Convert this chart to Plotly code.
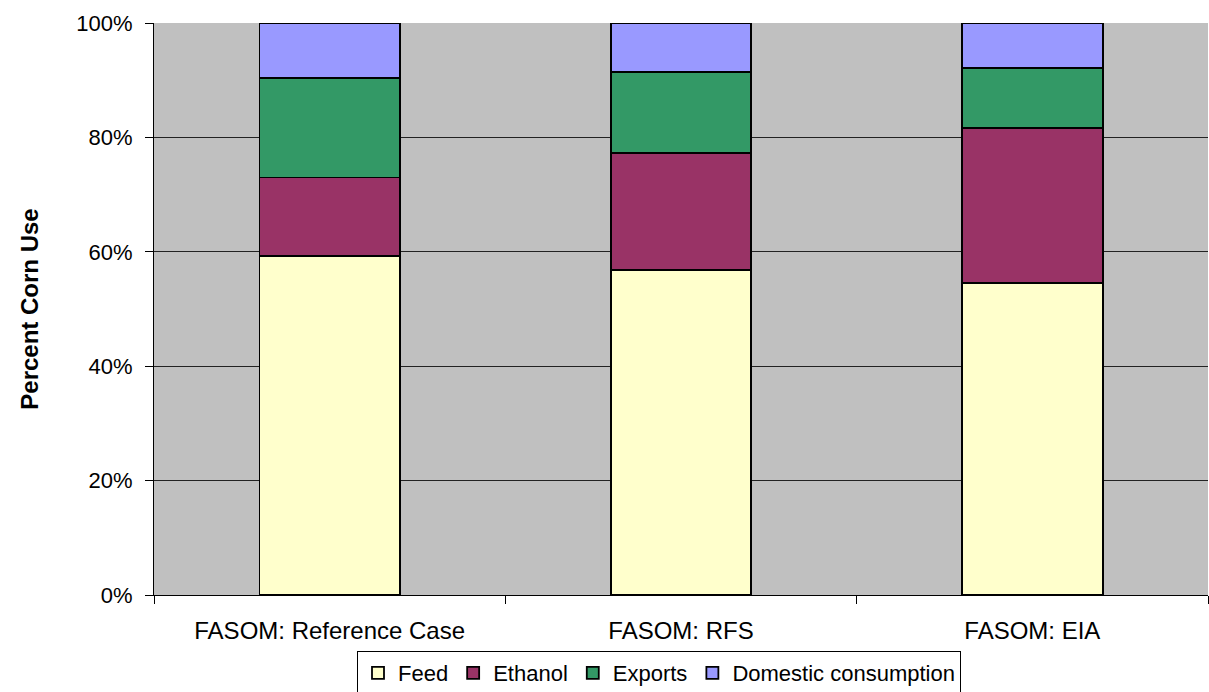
import plotly.graph_objects as go

# Corn use shares by scenario (percent of total)
scenarios = ["FASOM: Reference Case", "FASOM: RFS", "FASOM: EIA"]
feed = [59.2, 56.8, 54.5]
ethanol = [13.8, 20.5, 27.1]
exports = [17.4, 14.2, 10.5]
domestic = [9.6, 8.5, 7.9]

series = [
    ("Feed", feed, "#FFFFCC"),
    ("Ethanol", ethanol, "#993366"),
    ("Exports", exports, "#339966"),
    ("Domestic consumption", domestic, "#9999FF"),
]

FONT = "Liberation Sans, Arial, sans-serif"
xpos = list(range(len(scenarios)))

fig = go.Figure()
for name, vals, color in series:
    fig.add_trace(go.Bar(
        x=xpos, y=vals, name=name, width=0.4,
        marker=dict(color=color, line=dict(color="black", width=1.8)),
    ))

fig.update_layout(
    barmode="stack",
    width=1209, height=692,
    margin=dict(l=154, r=1, t=23, b=97, autoexpand=False),
    paper_bgcolor="white",
    plot_bgcolor="#C0C0C0",
    font=dict(family=FONT, size=22, color="black"),
    showlegend=True,
    legend=dict(
        orientation="h", traceorder="normal",
        x=0.1926, xanchor="left", y=-0.098, yanchor="top",
        bgcolor="white", bordercolor="black", borderwidth=1,
        font=dict(family=FONT, size=22, color="black"),
        itemwidth=30,
    ),
)

fig.update_xaxes(
    range=[-0.5, 2.5],
    tickmode="array", tickvals=xpos, ticktext=scenarios,
    ticks="", ticklabelstandoff=14,
    tickfont=dict(family=FONT, size=24, color="black"),
    showline=True, linecolor="black", linewidth=1,
    showgrid=False, zeroline=False, automargin=False,
    minor=dict(ticks="outside", ticklen=8, tickcolor="black", tickwidth=1,
               tick0=-0.5, dtick=1, showgrid=False),
)

fig.update_yaxes(
    range=[0, 100],
    tickmode="array", tickvals=[0, 20, 40, 60, 80, 100],
    ticktext=["0%", "20%", "40%", "60%", "80%", "100%"],
    ticks="outside", ticklen=8, tickcolor="black", tickwidth=1,
    ticklabelstandoff=8,
    tickfont=dict(family=FONT, size=22, color="black"),
    showline=True, linecolor="black", linewidth=1,
    showgrid=True, gridcolor="#222222", gridwidth=1,
    zeroline=False, automargin=False,
    title=dict(text="<b>Percent Corn Use</b>", standoff=30,
               font=dict(family=FONT, size=24, color="black")),
)

fig.write_html("out.html")
